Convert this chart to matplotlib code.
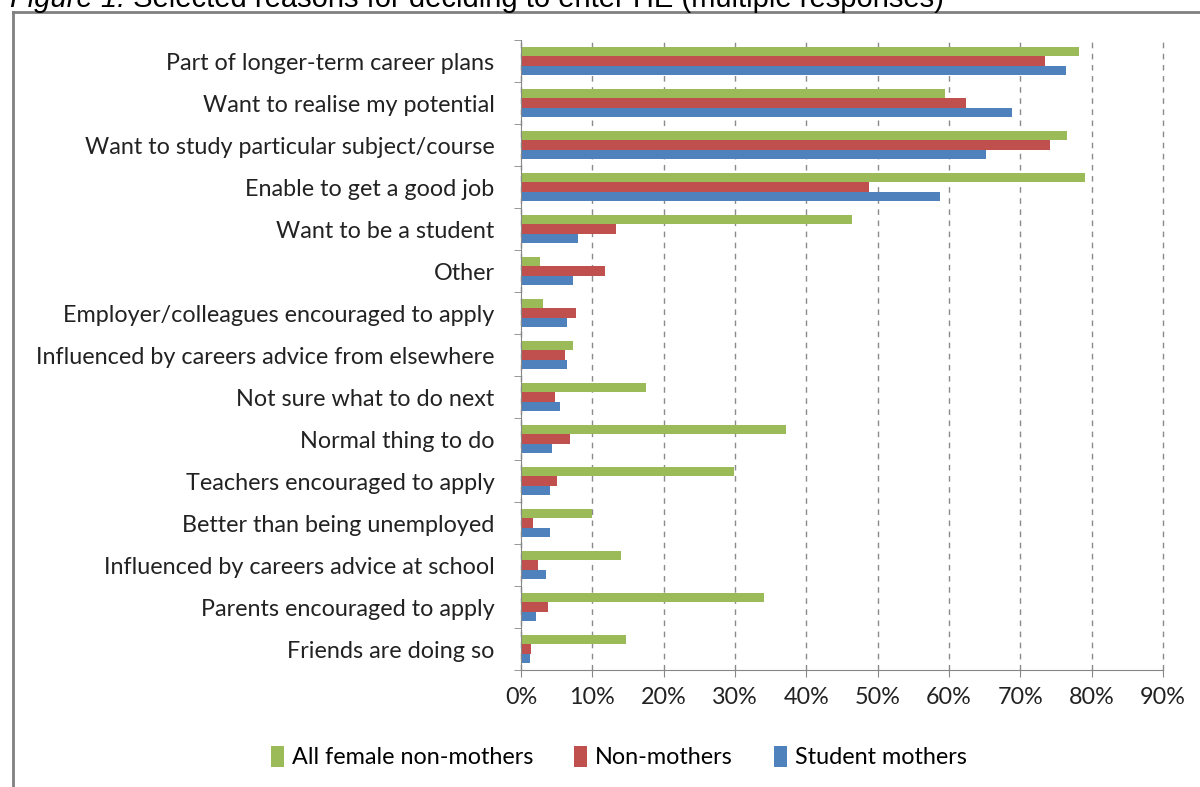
import numpy as np
import matplotlib.pyplot as plt
from matplotlib.lines import Line2D

# reasons, top to bottom
reasons = ["Part of longer-term career plans", "Want to realise my potential",
           "Want to study particular subject/course", "Enable to get a good job",
           "Want to be a student", "Other",
           "Employer/colleagues encouraged to apply",
           "Influenced by careers advice from elsewhere",
           "Not sure what to do next", "Normal thing to do",
           "Teachers encouraged to apply", "Better than being unemployed",
           "Influenced by careers advice at school",
           "Parents encouraged to apply", "Friends are doing so"]
all_female = [78.2, 59.5, 76.6, 79.1, 46.4, 2.6, 3.1, 7.3, 17.5, 37.1,
              29.8, 10.0, 14.0, 34.0, 14.7]
non_mothers = [73.4, 62.4, 74.1, 48.8, 13.3, 11.8, 7.7, 6.2, 4.7, 6.9,
               5.1, 1.7, 2.4, 3.8, 1.4]
student_mothers = [76.4, 68.8, 65.2, 58.8, 8.0, 7.3, 6.4, 6.4, 5.5, 4.4,
                   4.1, 4.0, 3.5, 2.1, 1.2]
series_names = ["All female non-mothers", "Non-mothers", "Student mothers"]
xticks = [0, 10, 20, 30, 40, 50, 60, 70, 80, 90]

green, red, blue = "#9BBB59", "#C0504D", "#4F81BD"
label_font = "Lato"
fs = 16.8

fig = plt.figure(figsize=(12, 7.87), dpi=100)
ax = fig.add_axes([521 / 1200, 1 - 670 / 787, (1163 - 521) / 1200, 630 / 787])

y = np.arange(len(reasons))
h = 0.217
ax.barh(y - h, all_female, height=h, color=green, label=series_names[0])
ax.barh(y, non_mothers, height=h, color=red, label=series_names[1])
ax.barh(y + h, student_mothers, height=h, color=blue, label=series_names[2])

ax.set_xlim(0, 90)
ax.set_ylim(len(reasons) - 0.5, -0.5)
ax.set_xticks(xticks)
ax.set_xticklabels([f"{t}%" for t in xticks], fontsize=fs,
                   family=label_font, color="#222222")
ax.set_yticks(y)
ax.set_yticklabels(reasons, fontsize=fs, family=label_font,
                   color="#222222")
ax.set_yticks(np.arange(-0.5, len(reasons)), minor=True)
ax.tick_params(axis="y", which="major", length=0, pad=19)
ax.tick_params(axis="y", which="minor", length=5, color="#868686")
ax.tick_params(axis="x", length=5, color="#868686", pad=7)

ax.grid(axis="x", color="#8a8a8a", linestyle=(0, (4, 4)), linewidth=1)
for gl in ax.get_xgridlines():
    gl.set_clip_on(False)
ax.set_axisbelow(True)
for s in ["top", "right"]:
    ax.spines[s].set_visible(False)
for s in ["left", "bottom"]:
    ax.spines[s].set_color("#868686")

leg = fig.legend(loc="center", bbox_to_anchor=(619 / 1200, 1 - 757 / 787),
                 ncol=3, frameon=False, handlelength=0.55, handleheight=1.0,
                 handletextpad=0.35, columnspacing=1.75,
                 prop={"family": label_font, "size": fs})

# outer chart border (cropped at right and bottom)
bx, by = 13 / 1200, 1 - 12 / 787
fig.add_artist(Line2D([bx, 1.01], [by, by], color="#808080", lw=2))
fig.add_artist(Line2D([bx, bx], [-0.01, by], color="#808080", lw=2))

# caption, cropped at the top like the reference
cy = 1 - 7 / 787
t1 = fig.text(10 / 1200, cy, "Figure 1:", fontsize=21, style="italic",
              family="Liberation Sans", va="baseline")
fig.canvas.draw()
x1 = fig.transFigure.inverted().transform(
    t1.get_window_extent().get_points())[1, 0]
fig.text(x1, cy, " Selected reasons for deciding to enter HE (multiple responses)",
         fontsize=21, family="Liberation Sans", va="baseline")

fig.savefig("out.png", dpi=100)
